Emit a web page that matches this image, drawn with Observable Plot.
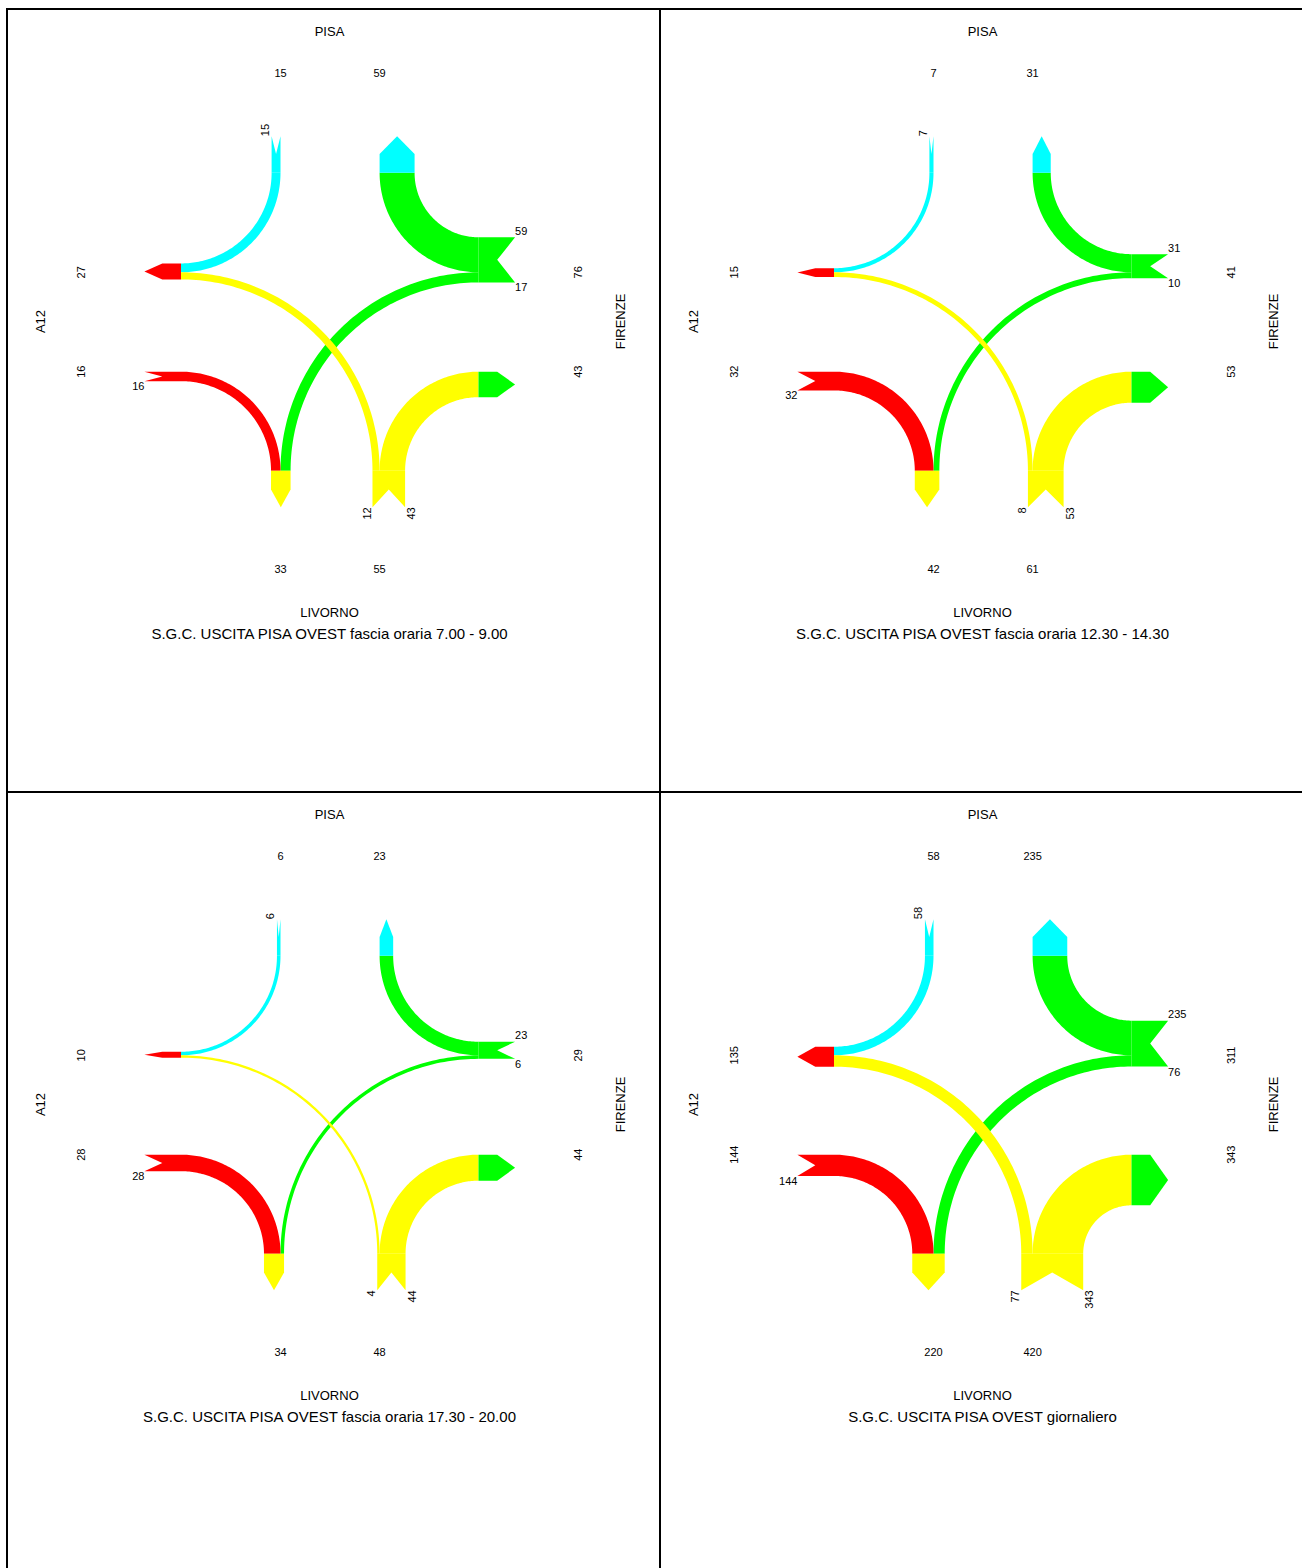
<!DOCTYPE html>
<html>
<head>
<meta charset="utf-8">
<script src="https://cdn.jsdelivr.net/npm/d3@7"></script>
<script src="https://cdn.jsdelivr.net/npm/@observablehq/plot@0.6"></script>
<style>
html, body { margin: 0; padding: 0; background: #fff; overflow: hidden; }
#grid { position: absolute; left: 6px; top: 8px; display: grid;
  grid-template-columns: 653px 653px; grid-template-rows: 783px 783px;
  border-left: 2px solid #000; border-top: 2px solid #000; }
.cell { box-sizing: border-box; width: 653px; height: 783px;
  border-right: 2px solid #000; border-bottom: 2px solid #000; overflow: hidden; }
.cell svg { display: block; }
</style>
</head>
<body>
<div id="grid"></div>
<script>
// ---- data ----
const nodeNames = ["PISA", "A12", "LIVORNO", "FIRENZE"];
const panelTitles = [
  "S.G.C. USCITA PISA OVEST fascia oraria 7.00 - 9.00",
  "S.G.C. USCITA PISA OVEST fascia oraria 12.30 - 14.30",
  "S.G.C. USCITA PISA OVEST fascia oraria 17.30 - 20.00",
  "S.G.C. USCITA PISA OVEST giornaliero"
];
const pisaToA12        = [15, 7, 6, 58];
const firenzeToPisa    = [59, 31, 23, 235];
const firenzeToLivorno = [17, 10, 6, 76];
const a12ToLivorno     = [16, 32, 28, 144];
const livornoToA12     = [12, 8, 4, 77];
const livornoToFirenze = [43, 53, 44, 343];

// ---- style ----
const nodeColor = {PISA: "#00ffff", A12: "#ff0000", LIVORNO: "#ffff00", FIRENZE: "#00ff00"};
const pxPerVehicle = [0.593, 0.585, 0.59, 0.1475];
const W = 651, H = 781;
const G = {X1: 272, X2: 371.1, Y1: 261.8, Y2: 361.2, XL: 172.5, XR: 470, YT: 162.3, YB: 460.2, S: 18.7, L: 36.6};
const FONT = "'Liberation Sans', Arial, Helvetica, sans-serif";

function arcBand(cx, cy, sx, sy, rx, ry, w) {
  const n = 80, pts = [];
  for (let i = 0; i <= n; i++) { const t = i / n * Math.PI / 2; pts.push({x: cx + sx * rx * Math.cos(t), y: cy + sy * ry * Math.sin(t)}); }
  for (let i = n; i >= 0; i--) { const t = i / n * Math.PI / 2; pts.push({x: cx + sx * (rx - w) * Math.cos(t), y: cy + sy * (ry - w) * Math.sin(t)}); }
  return pts;
}
// across: "x" (top/bottom ports) or "y" (left/right ports); dir: +1/-1 outward
function portShape(a, b, base, dir, across, kind) {
  const m = (a + b) / 2, {S, L} = G;
  const uv = kind === "head"
    ? [[a, 0], [a, S], [m, L], [b, S], [b, 0]]
    : [[a, 0], [a, L], [m, S], [b, L], [b, 0]];
  return uv.map(([u, v]) => across === "x" ? {x: u, y: base + dir * v} : {x: base + dir * v, y: u});
}

function panel(i) {
  const k = pxPerVehicle[i];
  const f = {PA: pisaToA12[i], FP: firenzeToPisa[i], FL: firenzeToLivorno[i], AL: a12ToLivorno[i], LA: livornoToA12[i], LF: livornoToFirenze[i]};
  const w = Object.fromEntries(Object.entries(f).map(([key, v]) => [key, v * k]));
  const {X1, X2, Y1, Y2, XL, XR, YT, YB, L} = G;
  const C = nodeColor;

  const shapes = [
    // bands, coloured by origin
    [arcBand(XL, YT, 1, 1, X1 - XL, Y1 - YT, w.PA), C.PISA],
    [arcBand(XR, YT, -1, 1, XR - X2, Y1 - YT, w.FP), C.FIRENZE],
    [arcBand(XR, YB, -1, -1, XR - X1, YB - Y1, w.FL), C.FIRENZE],
    [arcBand(XL, YB, 1, -1, X1 - XL, YB - Y2, w.AL), C.A12],
    [arcBand(XL, YB, 1, -1, X2 - XL, YB - Y1, w.LA), C.LIVORNO],
    [arcBand(XR, YB, -1, -1, XR - X2, YB - Y2, w.LF), C.LIVORNO],
    // tails (origin colour) and heads (destination colour)
    [portShape(X1 - w.PA, X1, YT, -1, "x", "tail"), C.PISA],
    [portShape(X2, X2 + w.FP, YT, -1, "x", "head"), C.PISA],
    [portShape(Y1 - w.PA, Y1 + w.LA, XL, -1, "y", "head"), C.A12],
    [portShape(Y2, Y2 + w.AL, XL, -1, "y", "tail"), C.A12],
    [portShape(X1 - w.AL, X1 + w.FL, YB, 1, "x", "head"), C.LIVORNO],
    [portShape(X2 - w.LA, X2 + w.LF, YB, 1, "x", "tail"), C.LIVORNO],
    [portShape(Y1 - w.FP, Y1 + w.FL, XR, 1, "y", "tail"), C.FIRENZE],
    [portShape(Y2, Y2 + w.LF, XR, 1, "y", "head"), C.FIRENZE]
  ];

  // node totals
  const tot = {
    pisaOut: f.PA, pisaIn: f.FP, a12In: f.PA + f.LA, a12Out: f.AL,
    livIn: f.AL + f.FL, livOut: f.LA + f.LF, firOut: f.FP + f.FL, firIn: f.LF
  };
  const hTotals = [
    {x: X1, y: 63, t: tot.pisaOut}, {x: X2, y: 63, t: tot.pisaIn},
    {x: X1, y: 559, t: tot.livIn}, {x: X2, y: 559, t: tot.livOut}
  ];
  const vTotals = [
    {x: 73, y: Y1, t: tot.a12In}, {x: 73, y: Y2, t: tot.a12Out},
    {x: 570, y: Y1, t: tot.firOut}, {x: 570, y: Y2, t: tot.firIn}
  ];
  // flow labels at tails
  const upStart = [{x: X1 - w.PA - 6, y: YT - L, t: f.PA}];
  const upEnd = [{x: X2 - w.LA - 5.5, y: YB + L, t: f.LA}, {x: X2 + w.LF + 6.5, y: YB + L, t: f.LF}];
  const hStart = [{x: XR + L, y: Y1 - w.FP - 6, t: f.FP}, {x: XR + L, y: Y1 + w.FL + 5.5, t: f.FL}];
  const hEnd = [{x: XL - L, y: Y2 + w.AL + 5.5, t: f.AL}];

  const names = [{x: 321, y: 21, t: nodeNames[0]}, {x: 321, y: 602, t: nodeNames[2]}];
  const vNames = [{x: 32, y: 311, t: nodeNames[1]}, {x: 612, y: 311, t: nodeNames[3]}];

  const marks = shapes.map(([pts, col]) => Plot.line(pts, {x: "x", y: "y", fill: col, stroke: "none"}));
  marks.push(
    Plot.text(hTotals, {x: "x", y: "y", text: "t", fontSize: 11}),
    Plot.text(vTotals, {x: "x", y: "y", text: "t", fontSize: 11, rotate: -90}),
    Plot.text(upStart, {x: "x", y: "y", text: "t", fontSize: 11, rotate: -90, textAnchor: "start"}),
    Plot.text(upEnd, {x: "x", y: "y", text: "t", fontSize: 11, rotate: -90, textAnchor: "end"}),
    Plot.text(hStart, {x: "x", y: "y", text: "t", fontSize: 11, textAnchor: "start"}),
    Plot.text(hEnd, {x: "x", y: "y", text: "t", fontSize: 11, textAnchor: "end"}),
    Plot.text(names, {x: "x", y: "y", text: "t", fontSize: 13}),
    Plot.text(vNames, {x: "x", y: "y", text: "t", fontSize: 13, rotate: -90}),
    Plot.text([{x: 321, y: 624, t: panelTitles[i]}], {x: "x", y: "y", text: "t", fontSize: 15})
  );

  return Plot.plot({
    width: W, height: H,
    marginTop: 0, marginRight: 0, marginBottom: 0, marginLeft: 0,
    x: {domain: [0, W], range: [0, W], axis: null},
    y: {domain: [0, H], range: [0, H], axis: null},
    style: {fontFamily: FONT, background: "#fff", color: "#000"},
    marks
  });
}

const grid = document.getElementById("grid");
for (let i = 0; i < 4; i++) {
  const cell = document.createElement("div");
  cell.className = "cell";
  cell.appendChild(panel(i));
  grid.appendChild(cell);
}
</script>
</body>
</html>
